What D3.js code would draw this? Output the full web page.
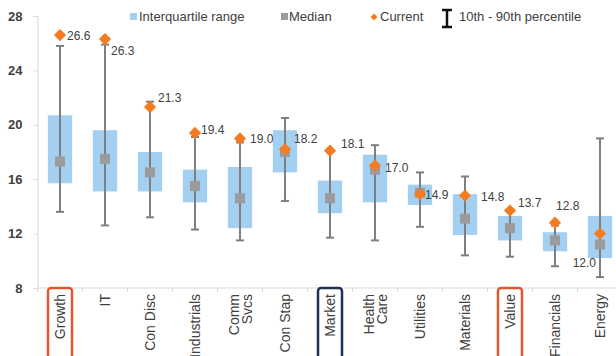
<!DOCTYPE html>
<html>
<head>
<meta charset="utf-8">
<style>
  body { margin: 0; background: #fff; }
  text { font-family: "Liberation Sans", Arial, sans-serif; fill: #404040; }
</style>
</head>
<body>
<svg width="616" height="356"></svg>
<script src="https://d3js.org/d3.v7.min.js"></script>
<script>
// sectors / styles, left to right
var categories = ["Growth", "IT", "Con Disc", "Industrials", "Comm Svcs", "Con Stap", "Market",
                  "Health Care", "Utilities", "Materials", "Value", "Financials", "Energy"];
var p10     = [13.6, 12.6, 13.2, 12.3, 11.5, 14.4, 11.7, 11.5, 12.5, 10.4, 10.3,  9.6,  8.8];
var q1      = [15.7, 15.1, 15.1, 14.3, 12.4, 16.5, 13.5, 14.3, 14.1, 11.9, 11.5, 10.7, 10.2];
var median  = [17.3, 17.5, 16.5, 15.5, 14.6, 18.0, 14.6, 16.7, 15.0, 13.1, 12.4, 11.5, 11.2];
var q3      = [20.7, 19.6, 18.0, 16.7, 16.9, 19.6, 15.9, 17.8, 15.6, 14.9, 13.3, 12.1, 13.3];
var p90     = [25.8, 25.9, 21.7, 19.1, 18.7, 20.5, 18.0, 18.5, 16.5, 16.2, 13.6, 12.6, 19.0];
var current = [26.6, 26.3, 21.3, 19.4, 19.0, 18.2, 18.1, 17.0, 14.9, 14.8, 13.7, 12.8, 12.0];
var yTicks  = [8, 12, 16, 20, 24, 28];
var highlighted = {"Growth": "#e4572e", "Market": "#1c3553", "Value": "#e4572e"};

var data = categories.map(function(c, i) {
  return {name: c, p10: p10[i], q1: q1[i], median: median[i], q3: q3[i], p90: p90[i], current: current[i]};
});

var svg = d3.select("svg");

var x = d3.scaleBand().domain(categories).range([37.5, 622.5]).padding(0);
var y = d3.scaleLinear().domain([8, 28]).range([288, 16]);
var bw = x.bandwidth();
var boxW = bw * 0.54;
function cx(d) { return x(d.name) + bw / 2; }

// axes
var yAxis = svg.append("g")
    .attr("transform", "translate(37.5,0)")
    .call(d3.axisLeft(y).tickValues(yTicks).tickSize(4).tickPadding(11).tickFormat(d3.format("d")));
yAxis.select(".domain").attr("stroke", "#d9d9d9");
yAxis.selectAll(".tick line").attr("stroke", "#d9d9d9");
yAxis.selectAll(".tick text").style("font-size", "13px").style("font-weight", "bold").attr("fill", "#3a3a3a");

var xAxis = svg.append("g").attr("transform", "translate(0,288)");
xAxis.append("line").attr("x1", 37.5).attr("x2", 616).attr("stroke", "#d9d9d9");
xAxis.selectAll(".xt").data(categories).enter().append("line")
    .attr("x1", function(d) { return x(d); }).attr("x2", function(d) { return x(d); })
    .attr("y1", 0).attr("y2", 4).attr("stroke", "#d9d9d9");

// boxes
svg.selectAll(".box").data(data).enter().append("rect")
    .attr("x", function(d) { return cx(d) - boxW / 2; })
    .attr("width", boxW)
    .attr("y", function(d) { return y(d.q3); })
    .attr("height", function(d) { return y(d.q1) - y(d.q3); })
    .attr("fill", "#a3cff0");

// whiskers
var wh = svg.selectAll(".wh").data(data).enter().append("g").attr("stroke", "#7f7f7f").attr("stroke-width", 2);
wh.append("line")
    .attr("x1", cx).attr("x2", cx)
    .attr("y1", function(d) { return y(d.p90); }).attr("y2", function(d) { return y(d.p10); });
wh.append("line")
    .attr("x1", function(d) { return cx(d) - 4; }).attr("x2", function(d) { return cx(d) + 4; })
    .attr("y1", function(d) { return y(d.p90); }).attr("y2", function(d) { return y(d.p90); });
wh.append("line")
    .attr("x1", function(d) { return cx(d) - 4; }).attr("x2", function(d) { return cx(d) + 4; })
    .attr("y1", function(d) { return y(d.p10); }).attr("y2", function(d) { return y(d.p10); });

// medians
svg.selectAll(".med").data(data).enter().append("rect")
    .attr("x", function(d) { return cx(d) - 5; })
    .attr("y", function(d) { return y(d.median) - 5; })
    .attr("width", 10).attr("height", 10)
    .attr("fill", "#9b9b9b");

// current
var diamond = d3.symbol().type(d3.symbolDiamond2).size(95);
svg.selectAll(".cur").data(data).enter().append("path")
    .attr("d", diamond)
    .attr("transform", function(d) { return "translate(" + cx(d) + "," + y(d.current) + ")"; })
    .attr("fill", "#f47b20");

// value labels: offset from the diamond
var labelOff = [[7, 5, "start"], [6, 16, "start"], [8, -5, "start"], [6, 1, "start"], [10, 5, "start"],
                [9, -6, "start"], [11, -3, "start"], [10, 6, "start"], [5, 5, "start"], [16, 5, "start"],
                [8, -3, "start"], [1, -13, "start"], [-4, 33, "end"]];
svg.selectAll(".lbl").data(data).enter().append("text")
    .attr("x", function(d, i) { return cx(d) + labelOff[i][0]; })
    .attr("y", function(d, i) { return y(d.current) + labelOff[i][1]; })
    .attr("text-anchor", function(d, i) { return labelOff[i][2]; })
    .style("font-size", "12px")
    .text(function(d) { return d3.format(".1f")(d.current); });

// category labels (rotated)
var cl = svg.selectAll(".cl").data(data).enter().append("g")
    .attr("transform", function(d) { return "translate(" + cx(d) + ",294) rotate(-90)"; });
cl.each(function(d) {
  var g = d3.select(this);
  var words = d.name === "Comm Svcs" || d.name === "Health Care" ? d.name.split(" ") : [d.name];
  var t = g.append("text").attr("text-anchor", "end").style("font-size", "14px");
  words.forEach(function(w, j) {
    t.append("tspan").attr("x", 0)
      .attr("y", words.length === 1 ? 5 : (j === 0 ? -1 : 12))
      .text(w);
  });
  if (highlighted[d.name]) {
    g.insert("rect", "text")
      .attr("x", -66).attr("y", -12).attr("width", 72).attr("height", 24)
      .attr("rx", 3).attr("fill", "none")
      .attr("stroke", highlighted[d.name]).attr("stroke-width", 2.5);
  }
});

// legend
var lg = svg.append("g").style("font-size", "13px");
lg.append("rect").attr("x", 130).attr("y", 13).attr("width", 7).attr("height", 7).attr("fill", "#a3cff0");
lg.append("text").attr("x", 139).attr("y", 21).text("Interquartile range");
lg.append("rect").attr("x", 281).attr("y", 13).attr("width", 7).attr("height", 7).attr("fill", "#9b9b9b");
lg.append("text").attr("x", 289).attr("y", 21).text("Median");
lg.append("path").attr("d", d3.symbol().type(d3.symbolDiamond2).size(30))
    .attr("transform", "translate(374,17)").attr("fill", "#f47b20");
lg.append("text").attr("x", 380).attr("y", 21).text("Current");
var ib = lg.append("g").attr("stroke", "#111").attr("stroke-width", 2.5);
ib.append("line").attr("x1", 447).attr("x2", 447).attr("y1", 10).attr("y2", 27);
ib.append("line").attr("x1", 442).attr("x2", 452).attr("y1", 10).attr("y2", 10);
ib.append("line").attr("x1", 442).attr("x2", 452).attr("y1", 27).attr("y2", 27);
lg.append("text").attr("x", 459).attr("y", 21).text("10th - 90th percentile");
</script>
</body>
</html>
